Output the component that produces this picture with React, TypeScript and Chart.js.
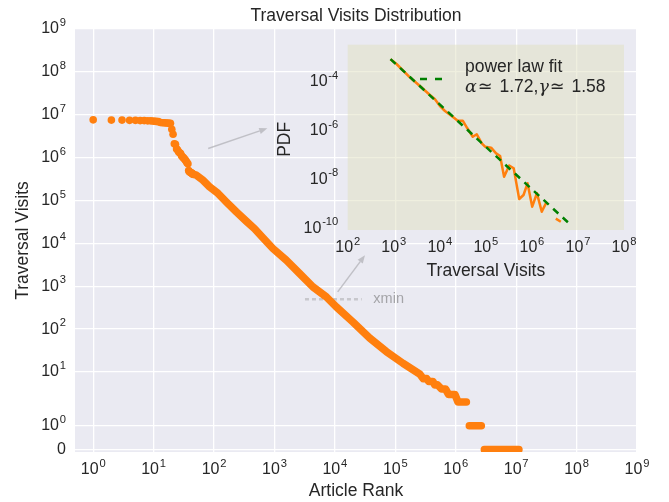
import React, { useEffect, useRef } from 'react';
import { Chart, registerables, LinearScale } from 'chart.js';

Chart.register(...registerables);

// ---------------- data ----------------
// main plot: article rank vs traversal visits
const topRanks = [1, 2, 3, 4, 5, 6, 7, 8, 9, 10, 11, 12, 13, 14, 15, 16, 17, 18, 19, 20, 21, 22, 23, 24, 25, 26, 27, 28, 29, 30, 31, 32, 33, 34, 35, 36, 37, 38, 39, 40, 41, 42, 43, 44, 45];
const topVisits = [7.6e6, 7.5e6, 7.5e6, 7.4e6, 7.4e6, 7.3e6, 7.3e6, 7.2e6, 7.2e6, 7.1e6, 7.0e6, 6.9e6, 6.6e6, 6.5e6, 6.5e6, 6.4e6, 6.4e6, 6.3e6, 6.3e6, 4.6e6, 3.5e6, 2.1e6, 2.05e6, 1.6e6, 1.5e6, 1.35e6, 1.3e6, 1.25e6, 1.1e6, 1.05e6, 1.0e6, 9.5e5, 9.0e5, 8.6e5, 8.0e5, 7.5e5, 7.2e5, 5.0e5, 4.7e5, 4.6e5, 4.5e5, 4.4e5, 4.3e5, 4.2e5, 4.1e5];
const tailRanks = [45, 51, 65, 84, 116, 159, 233, 341, 469, 643, 942, 1567, 2604, 4325, 7210, 10550, 19860, 37580, 71000, 133700, 252500, 270000, 290000, 330000, 360000, 420000, 450000, 500000, 585000, 680000, 760000, 970000, 1090000, 1500000, 1590000, 1680000, 2650000, 2820000, 2980000, 11100000];
const tailVisits = [4.1e5, 3.9e5, 3.0e5, 2.1e5, 1.47e5, 9.3e4, 5.45e4, 3.3e4, 2.2e4, 1.35e4, 7.6e3, 4.06e3, 1.99e3, 966, 565, 330, 147, 62, 30, 16, 9, 8, 7, 7, 6, 6, 5, 5, 4, 4, 3, 3, 2, 2, null, 1, 1, null, 0, 0];
const xminRanks = [3200, 27800];
const xminVisits = [499, 499];
const xminLabelRank = 43300;
const xminLabelVisits = 499;
const arrowTailRanks = [80, 11130];
const arrowTailVisits = [1.64e6, 739];
const arrowHeadRanks = [761, 31500];
const arrowHeadVisits = [4.82e6, 5310];

// axis setup for the main plot
const mainXMin = 0.5;
const mainXMax = 1e9;
const mainYMin = -0.1;
const mainYMax = 1e9;
const mainXExps = [0, 1, 2, 3, 4, 5, 6, 7, 8, 9];
const mainYTickValues = [0, 1, 10, 100, 1e3, 1e4, 1e5, 1e6, 1e7, 1e8, 1e9];

// inset: PDF of traversal visits
const pdfVisits = [851, 1150, 2239, 3698, 6109, 7852, 10080, 12950, 18130, 24490, 31470, 39630, 51990, 63500, 81600, 96200, 130000, 167000, 204000, 249000, 321000, 402000, 530000, 658000, 803000, 1016000, 1285000, 1637000, 2103000, 2700000, 3302000, 4245000];
const pdfDensity = [8.28e-4, 5.31e-4, 1.52e-4, 6.68e-5, 2.86e-5, 1.91e-5, 1.01e-5, 6.32e-6, 3.95e-6, 2.53e-6, 2.53e-6, 1.24e-6, 5.61e-7, 7.05e-7, 3.01e-7, 2.19e-7, 1.99e-7, 1.17e-7, 9.1e-8, 1.29e-8, 3.72e-8, 2.86e-8, 1.58e-9, 2.31e-9, 6.95e-9, 7.66e-10, 2.71e-9, 4.79e-10, 1.23e-9, null, 2.47e-10, 1.86e-10];
const fitVisits = [850, 7.2e6];
const fitDensity = [8.4e-4, 1.3e-10];
const insetXMin = 100;
const insetXMax = 1e8;
const insetYMinExp = -10.07;
const insetYMaxExp = -2.485;
const insetXExps = [2, 3, 4, 5, 6, 7, 8];
const insetYExps = [-4, -6, -8, -10];

// ---------------- styles ----------------
const ORANGE = '#ff7f0e';
const GREEN = '#008000';
const TEXT = '#262626';
const FONT = '"Liberation Sans", Arial, Helvetica, sans-serif';
const TICK_SIZE = 16;
const LABEL_SIZE = 17.5;

// ---------------- symlog scale (linthresh 2, linscale 1) ----------------
const LINTHRESH = 2;
const LINSCALE_ADJ = 1 / (1 - 1 / 10);
function symT(v: number) {
  const a = Math.abs(v);
  if (a <= LINTHRESH) return (v / LINTHRESH) * LINSCALE_ADJ;
  return Math.sign(v) * (LINSCALE_ADJ + Math.log10(a / LINTHRESH));
}
function symInv(t: number) {
  const a = Math.abs(t);
  if (a <= LINSCALE_ADJ) return (t / LINSCALE_ADJ) * LINTHRESH;
  return Math.sign(t) * LINTHRESH * Math.pow(10, a - LINSCALE_ADJ);
}

class SymlogScale extends (LinearScale as any) {
  static id = 'symlog';
  static defaults = {};
  _tMin = 0;
  _tMax = 1;
  determineDataLimits() {
    const o: any = this.options;
    this.min = o.min;
    this.max = o.max;
  }
  buildTicks() {
    return mainYTickValues.map((v) => ({ value: v }));
  }
  configure() {
    super.configure();
    this._tMin = symT(this.min);
    this._tMax = symT(this.max);
  }
  getPixelForValue(value: number) {
    if (value === null || value === undefined || isNaN(value)) return NaN;
    return this.getPixelForDecimal((symT(value) - this._tMin) / (this._tMax - this._tMin));
  }
  getValueForPixel(pixel: number) {
    return symInv(this._tMin + this.getDecimalForPixel(pixel) * (this._tMax - this._tMin));
  }
}
Chart.register(SymlogScale as any);

// ---------------- drawing helpers ----------------
function drawPower(ctx: CanvasRenderingContext2D, exp: string, x: number, y: number, align: 'center' | 'right') {
  const sup = TICK_SIZE * 0.7;
  ctx.font = `${TICK_SIZE}px ${FONT}`;
  const wb = ctx.measureText('10').width;
  ctx.font = `${sup}px ${FONT}`;
  const we = ctx.measureText(exp).width;
  const gap = 0.8;
  const total = wb + gap + we;
  const x0 = align === 'center' ? x - total / 2 : x - total;
  ctx.fillStyle = TEXT;
  ctx.textAlign = 'left';
  ctx.textBaseline = 'middle';
  ctx.font = `${TICK_SIZE}px ${FONT}`;
  ctx.fillText('10', x0, y);
  ctx.font = `${sup}px ${FONT}`;
  ctx.fillText(exp, x0 + wb + gap, y - TICK_SIZE * 0.38);
}

function drawArrow(ctx: CanvasRenderingContext2D, x1: number, y1: number, x2: number, y2: number, color: string) {
  const ang = Math.atan2(y2 - y1, x2 - x1);
  const c = Math.cos(ang);
  const s = Math.sin(ang);
  const hl = 8;
  const hw = 3.2;
  ctx.save();
  ctx.strokeStyle = color;
  ctx.fillStyle = color;
  ctx.lineWidth = 1.5;
  ctx.beginPath();
  ctx.moveTo(x1, y1);
  ctx.lineTo(x2 - hl * c, y2 - hl * s);
  ctx.stroke();
  ctx.beginPath();
  ctx.moveTo(x2, y2);
  ctx.lineTo(x2 - hl * c + hw * s, y2 - hl * s - hw * c);
  ctx.lineTo(x2 - hl * c - hw * s, y2 - hl * s + hw * c);
  ctx.closePath();
  ctx.fill();
  ctx.restore();
}

function drawText(ctx: CanvasRenderingContext2D, text: string, x: number, y: number, font: string, align: CanvasTextAlign = 'center', color = TEXT, rotate = 0) {
  ctx.save();
  ctx.translate(x, y);
  if (rotate) ctx.rotate(rotate);
  ctx.font = font;
  ctx.fillStyle = color;
  ctx.textAlign = align;
  ctx.textBaseline = 'middle';
  ctx.fillText(text, 0, 0);
  ctx.restore();
}

const mainDecor = {
  id: 'mainDecor',
  beforeDraw(chart: any) {
    const { ctx, chartArea: a } = chart;
    ctx.save();
    ctx.fillStyle = '#eaeaf2';
    ctx.fillRect(a.left, a.top, a.right - a.left, a.bottom - a.top);
    ctx.restore();
  },
  afterDatasetsDraw(chart: any) {
    const { ctx } = chart;
    const xs = chart.scales.x;
    const ys = chart.scales.y;
    for (let i = 0; i < arrowTailRanks.length; i++) {
      drawArrow(
        ctx,
        xs.getPixelForValue(arrowTailRanks[i]),
        ys.getPixelForValue(arrowTailVisits[i]),
        xs.getPixelForValue(arrowHeadRanks[i]),
        ys.getPixelForValue(arrowHeadVisits[i]),
        'rgba(185,185,190,0.85)'
      );
    }
    drawText(ctx, 'xmin', xs.getPixelForValue(xminLabelRank), ys.getPixelForValue(xminLabelVisits), `14.5px ${FONT}`, 'left', '#a4a4a8');
  },
  afterDraw(chart: any) {
    const { ctx, chartArea: a } = chart;
    const xs = chart.scales.x;
    const ys = chart.scales.y;
    for (const e of mainXExps) {
      drawPower(ctx, String(e), xs.getPixelForValue(Math.pow(10, e)), a.bottom + 18, 'center');
    }
    for (const v of mainYTickValues) {
      const py = ys.getPixelForValue(v);
      if (v === 0) {
        drawText(ctx, '0', a.left - 9, py, `${TICK_SIZE}px ${FONT}`, 'right');
      } else {
        drawPower(ctx, String(Math.round(Math.log10(v))), a.left - 9, py, 'right');
      }
    }
    const cx = (a.left + a.right) / 2;
    drawText(ctx, 'Traversal Visits Distribution', cx, a.top - 12.5, `${LABEL_SIZE}px ${FONT}`);
    drawText(ctx, 'Article Rank', cx, a.bottom + 39, `${LABEL_SIZE}px ${FONT}`);
    drawText(ctx, 'Traversal Visits', a.left - 52, (a.top + a.bottom) / 2, `${LABEL_SIZE}px ${FONT}`, 'center', TEXT, -Math.PI / 2);
  },
};

const insetDecor = {
  id: 'insetDecor',
  beforeDraw(chart: any) {
    const { ctx, chartArea: a } = chart;
    ctx.save();
    ctx.fillStyle = 'rgba(224,224,192,0.5)';
    ctx.fillRect(a.left, a.top, a.right - a.left, a.bottom - a.top);
    ctx.restore();
  },
  afterDraw(chart: any) {
    const { ctx, chartArea: a } = chart;
    const xs = chart.scales.x;
    const ys = chart.scales.y;
    for (const e of insetXExps) {
      drawPower(ctx, String(e), xs.getPixelForValue(Math.pow(10, e)), a.bottom + 17.5, 'center');
    }
    for (const e of insetYExps) {
      drawPower(ctx, '-' + String(-e), a.left - 9.4, ys.getPixelForValue(Math.pow(10, e)), 'right');
    }
    drawText(ctx, 'Traversal Visits', (a.left + a.right) / 2, a.bottom + 40.7, `${LABEL_SIZE}px ${FONT}`);
    drawText(ctx, 'PDF', a.left - 62.7, (a.top + a.bottom) / 2 + 2, `${LABEL_SIZE}px ${FONT}`, 'center', TEXT, -Math.PI / 2);

    // legend
    ctx.save();
    ctx.strokeStyle = GREEN;
    ctx.lineWidth = 2.5;
    ctx.setLineDash([7, 8]);
    ctx.beginPath();
    ctx.moveTo(a.left + 72.3, a.top + 34.3);
    ctx.lineTo(a.left + 95.3, a.top + 34.3);
    ctx.stroke();
    ctx.restore();
    const lx = a.left + 117.3;
    drawText(ctx, 'power law fit', lx, a.top + 22, `${LABEL_SIZE}px ${FONT}`, 'left');
    const y2 = a.top + 42.5;
    const mathFont = `italic ${LABEL_SIZE}px "DejaVu Serif", serif`;
    const symFont = `${LABEL_SIZE}px "DejaVu Sans", sans-serif`;
    const numFont = `${LABEL_SIZE}px ${FONT}`;
    let x = lx;
    ctx.font = mathFont;
    drawText(ctx, 'α', x, y2, mathFont, 'left');
    x += ctx.measureText('α').width + 1;
    drawText(ctx, '≃', x, y2, symFont, 'left');
    ctx.font = symFont;
    x += ctx.measureText('≃').width + 7;
    drawText(ctx, '1.72,', x, y2, numFont, 'left');
    ctx.font = numFont;
    x += ctx.measureText('1.72,').width;
    drawText(ctx, 'γ', x, y2, mathFont, 'left');
    ctx.font = mathFont;
    x += ctx.measureText('γ').width + 1;
    drawText(ctx, '≃', x, y2, symFont, 'left');
    ctx.font = symFont;
    x += ctx.measureText('≃').width + 7;
    drawText(ctx, '1.58', x, y2, numFont, 'left');
  },
};

function pts(xs: number[], ys: (number | null)[]) {
  return xs.map((x, i) => ({ x, y: ys[i] }));
}

export default function App() {
  const mainRef = useRef<HTMLCanvasElement>(null);
  const insetRef = useRef<HTMLCanvasElement>(null);

  useEffect(() => {
    const gridOpts = { color: '#ffffff', lineWidth: 1.3, drawTicks: false };
    const main = new Chart(mainRef.current as HTMLCanvasElement, {
      type: 'scatter',
      data: {
        datasets: [
          {
            label: 'top articles',
            data: pts(topRanks, topVisits),
            pointRadius: 3.8,
            pointBackgroundColor: ORANGE,
            pointBorderWidth: 0,
            showLine: false,
            order: 0,
          },
          {
            label: 'articles',
            data: pts(tailRanks, tailVisits),
            showLine: true,
            borderColor: ORANGE,
            borderWidth: 7.6,
            borderCapStyle: 'round',
            borderJoinStyle: 'round',
            pointRadius: 0,
            spanGaps: false,
            order: 1,
          },
          {
            label: 'xmin',
            data: pts(xminRanks, xminVisits),
            showLine: true,
            borderColor: 'rgba(195,195,200,0.9)',
            borderWidth: 2.5,
            borderDash: [4, 3],
            pointRadius: 0,
            order: 2,
          },
        ] as any,
      },
      options: {
        responsive: false,
        animation: false,
        events: [],
        layout: { padding: { left: 75, right: 32, top: 29, bottom: 50 } },
        plugins: { legend: { display: false }, tooltip: { enabled: false }, title: { display: false } },
        scales: {
          x: {
            type: 'logarithmic',
            min: mainXMin,
            max: mainXMax,
            afterBuildTicks: (s: any) => {
              s.ticks = mainXExps.map((e) => ({ value: Math.pow(10, e) }));
            },
            ticks: { display: false },
            grid: gridOpts,
            border: { display: false },
          },
          y: {
            type: 'symlog' as any,
            min: mainYMin,
            max: mainYMax,
            ticks: { display: false },
            grid: gridOpts,
            border: { display: false },
          },
        } as any,
      },
      plugins: [mainDecor],
    });

    const inset = new Chart(insetRef.current as HTMLCanvasElement, {
      type: 'scatter',
      data: {
        datasets: [
          {
            label: 'power law fit',
            data: pts(fitVisits, fitDensity),
            showLine: true,
            borderColor: GREEN,
            borderWidth: 2.5,
            borderDash: [7, 6],
            pointRadius: 0,
            order: 0,
          },
          {
            label: 'PDF',
            data: pts(pdfVisits, pdfDensity),
            showLine: true,
            borderColor: ORANGE,
            borderWidth: 2.5,
            borderJoinStyle: 'round',
            pointRadius: 0,
            spanGaps: false,
            order: 1,
          },
        ] as any,
      },
      options: {
        responsive: false,
        animation: false,
        events: [],
        layout: { padding: { left: 347.7, right: 45, top: 44.7, bottom: 272 } },
        plugins: { legend: { display: false }, tooltip: { enabled: false } },
        scales: {
          x: {
            type: 'logarithmic',
            min: insetXMin,
            max: insetXMax,
            afterBuildTicks: (s: any) => {
              s.ticks = insetXExps.map((e) => ({ value: Math.pow(10, e) }));
            },
            ticks: { display: false },
            grid: { display: false, drawTicks: false },
            border: { display: false },
          },
          y: {
            type: 'logarithmic',
            min: Math.pow(10, insetYMinExp),
            max: Math.pow(10, insetYMaxExp),
            afterBuildTicks: (s: any) => {
              s.ticks = insetYExps.map((e) => ({ value: Math.pow(10, e) }));
            },
            ticks: { display: false },
            grid: { display: false, drawTicks: false },
            border: { display: false },
          },
        } as any,
      },
      plugins: [insetDecor],
    });

    return () => {
      main.destroy();
      inset.destroy();
    };
  }, []);

  return (
    <div style={{ position: 'fixed', left: 0, top: 0, width: 669, height: 502, background: '#ffffff' }}>
      <canvas ref={mainRef} width={669} height={502} style={{ position: 'absolute', left: 0, top: 0 }} />
      <canvas ref={insetRef} width={669} height={502} style={{ position: 'absolute', left: 0, top: 0 }} />
    </div>
  );
}
